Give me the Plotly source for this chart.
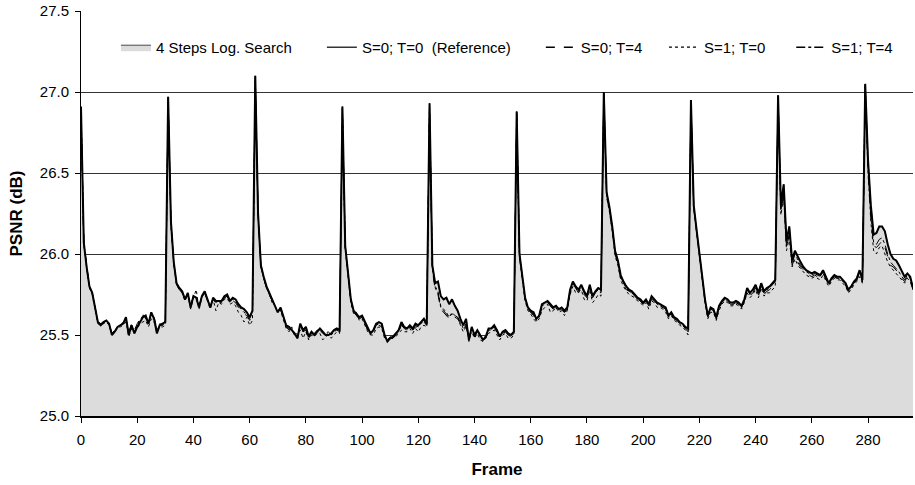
import plotly.graph_objects as go

frames = list(range(297))

# 4 Steps Log. Search (filled area)
log_search = [
    26.91, 26.07, 25.92, 25.80, 25.76, 25.66, 25.58, 25.56, 25.58, 25.59, 25.57, 25.50, 25.52, 25.55, 25.56, 25.57, 25.61, 25.50, 25.56, 25.51, 25.55, 25.58, 25.61, 25.62, 25.57, 25.64, 25.60, 25.51, 25.56, 25.57, 25.58,
    26.97, 26.20, 25.95, 25.82, 25.79, 25.77, 25.72, 25.76, 25.67, 25.74, 25.73, 25.67, 25.74, 25.77, 25.72, 25.67, 25.73, 25.71, 25.71, 25.71, 25.74, 25.75, 25.71, 25.73, 25.72, 25.69, 25.67, 25.66, 25.64, 25.61, 25.65,
    27.10, 26.25, 25.93, 25.86, 25.80, 25.76, 25.72, 25.68, 25.64, 25.67, 25.61, 25.56, 25.55, 25.53, 25.51, 25.48, 25.57, 25.53, 25.55, 25.49, 25.52, 25.50, 25.52, 25.54, 25.52, 25.50, 25.50, 25.51, 25.53, 25.54, 25.53,
    26.91, 26.05, 25.86, 25.72, 25.65, 25.63, 25.61, 25.62, 25.58, 25.54, 25.51, 25.53, 25.57, 25.58, 25.57, 25.50, 25.46, 25.48, 25.49, 25.51, 25.53, 25.58, 25.55, 25.54, 25.56, 25.54, 25.57, 25.56, 25.58, 25.60, 25.57,
    26.93, 25.93, 25.82, 25.83, 25.74, 25.72, 25.73, 25.69, 25.72, 25.68, 25.65, 25.60, 25.56, 25.60, 25.47, 25.55, 25.50, 25.53, 25.50, 25.47, 25.49, 25.54, 25.54, 25.56, 25.53, 25.49, 25.52, 25.53, 25.51, 25.50, 25.52,
    26.88, 26.00, 25.86, 25.73, 25.67, 25.65, 25.64, 25.60, 25.62, 25.69, 25.70, 25.71, 25.69, 25.67, 25.68, 25.66, 25.67, 25.65, 25.67, 25.78, 25.83, 25.80, 25.78, 25.81, 25.77, 25.74, 25.81, 25.74, 25.77, 25.79, 25.78,
    27.00, 26.38, 26.29, 26.17, 26.02, 25.96, 25.87, 25.83, 25.80, 25.78, 25.77, 25.75, 25.73, 25.72, 25.70, 25.72, 25.69, 25.74, 25.72, 25.70, 25.69, 25.68, 25.67, 25.62, 25.64, 25.61, 25.60, 25.58, 25.57, 25.55, 25.54,
    26.95, 26.30, 26.15, 26.00, 25.85, 25.72, 25.62, 25.67, 25.66, 25.61, 25.68, 25.71, 25.73, 25.72, 25.70, 25.70, 25.71, 25.70, 25.68, 25.72, 25.79, 25.76, 25.78, 25.81, 25.76, 25.82, 25.77, 25.79, 25.80, 25.82, 25.84,
    26.98, 26.30, 26.43, 26.08, 26.17, 25.96, 26.02, 25.98, 25.95, 25.92, 25.90, 25.89, 25.88, 25.89, 25.88, 25.87, 25.90, 25.86, 25.82, 25.85, 25.87, 25.86, 25.86, 25.84, 25.82, 25.78, 25.80, 25.83, 25.85, 25.90, 25.84,
    27.05, 26.58, 26.30, 26.12, 26.13, 26.17, 26.17, 26.14, 26.06, 26.00, 25.97, 25.96, 25.93, 25.89, 25.86, 25.88, 25.86, 25.79,
]

# S=0; T=0 (Reference)
s0_t0 = [
    26.91, 26.07, 25.92, 25.80, 25.76, 25.66, 25.58, 25.56, 25.58, 25.59, 25.57, 25.50, 25.52, 25.55, 25.56, 25.57, 25.61, 25.50, 25.56, 25.51, 25.55, 25.58, 25.61, 25.62, 25.57, 25.64, 25.60, 25.51, 25.56, 25.57, 25.58,
    26.97, 26.20, 25.95, 25.82, 25.79, 25.77, 25.72, 25.76, 25.67, 25.74, 25.73, 25.67, 25.74, 25.77, 25.72, 25.67, 25.73, 25.71, 25.71, 25.71, 25.74, 25.75, 25.71, 25.73, 25.72, 25.69, 25.67, 25.66, 25.64, 25.61, 25.65,
    27.10, 26.25, 25.93, 25.86, 25.80, 25.76, 25.72, 25.68, 25.64, 25.67, 25.61, 25.56, 25.55, 25.53, 25.51, 25.48, 25.57, 25.53, 25.55, 25.49, 25.52, 25.50, 25.52, 25.54, 25.52, 25.50, 25.50, 25.51, 25.53, 25.54, 25.53,
    26.91, 26.05, 25.86, 25.72, 25.65, 25.63, 25.61, 25.62, 25.58, 25.54, 25.51, 25.53, 25.57, 25.58, 25.57, 25.50, 25.46, 25.48, 25.49, 25.51, 25.53, 25.58, 25.55, 25.54, 25.56, 25.54, 25.57, 25.56, 25.58, 25.60, 25.57,
    26.93, 25.93, 25.82, 25.83, 25.74, 25.72, 25.73, 25.69, 25.72, 25.68, 25.65, 25.60, 25.56, 25.60, 25.47, 25.55, 25.50, 25.53, 25.50, 25.47, 25.49, 25.54, 25.54, 25.56, 25.53, 25.49, 25.52, 25.53, 25.51, 25.50, 25.52,
    26.88, 26.00, 25.86, 25.73, 25.67, 25.65, 25.64, 25.60, 25.62, 25.69, 25.70, 25.71, 25.69, 25.67, 25.68, 25.66, 25.67, 25.65, 25.67, 25.78, 25.83, 25.80, 25.78, 25.81, 25.77, 25.74, 25.81, 25.74, 25.77, 25.79, 25.78,
    27.00, 26.38, 26.29, 26.17, 26.02, 25.96, 25.87, 25.83, 25.80, 25.78, 25.77, 25.75, 25.73, 25.72, 25.70, 25.72, 25.69, 25.74, 25.72, 25.70, 25.69, 25.68, 25.67, 25.62, 25.64, 25.61, 25.60, 25.58, 25.57, 25.55, 25.54,
    26.95, 26.30, 26.15, 26.00, 25.85, 25.72, 25.62, 25.67, 25.66, 25.61, 25.68, 25.71, 25.73, 25.72, 25.70, 25.70, 25.71, 25.70, 25.68, 25.72, 25.79, 25.76, 25.78, 25.81, 25.76, 25.82, 25.77, 25.79, 25.80, 25.82, 25.84,
    26.98, 26.30, 26.43, 26.08, 26.17, 25.96, 26.02, 25.98, 25.95, 25.92, 25.90, 25.89, 25.88, 25.89, 25.88, 25.87, 25.90, 25.86, 25.82, 25.85, 25.87, 25.86, 25.86, 25.84, 25.82, 25.78, 25.80, 25.83, 25.85, 25.90, 25.84,
    27.05, 26.58, 26.30, 26.12, 26.13, 26.17, 26.17, 26.14, 26.06, 26.00, 25.97, 25.96, 25.93, 25.89, 25.86, 25.88, 25.86, 25.79,
]

# S=0; T=4
s0_t4 = [
    26.90, 26.08, 25.93, 25.80, 25.76, 25.66, 25.58, 25.57, 25.58, 25.59, 25.56, 25.51, 25.53, 25.56, 25.56, 25.58, 25.59, 25.52, 25.57, 25.53, 25.57, 25.60, 25.63, 25.60, 25.58, 25.62, 25.61, 25.54, 25.57, 25.56, 25.59,
    26.96, 26.19, 25.94, 25.81, 25.78, 25.76, 25.72, 25.75, 25.68, 25.74, 25.72, 25.68, 25.73, 25.76, 25.71, 25.68, 25.72, 25.70, 25.71, 25.70, 25.73, 25.74, 25.70, 25.71, 25.70, 25.67, 25.65, 25.63, 25.62, 25.59, 25.63,
    27.08, 26.24, 25.93, 25.85, 25.79, 25.75, 25.71, 25.69, 25.65, 25.66, 25.60, 25.55, 25.53, 25.54, 25.50, 25.49, 25.55, 25.52, 25.53, 25.48, 25.51, 25.51, 25.53, 25.53, 25.51, 25.51, 25.52, 25.50, 25.52, 25.53, 25.52,
    26.90, 26.04, 25.85, 25.71, 25.64, 25.62, 25.60, 25.61, 25.57, 25.53, 25.52, 25.52, 25.55, 25.56, 25.55, 25.49, 25.47, 25.49, 25.48, 25.50, 25.52, 25.56, 25.54, 25.53, 25.55, 25.53, 25.55, 25.55, 25.57, 25.58, 25.56,
    26.92, 25.90, 25.78, 25.75, 25.66, 25.64, 25.62, 25.60, 25.62, 25.61, 25.60, 25.57, 25.53, 25.56, 25.46, 25.53, 25.49, 25.52, 25.48, 25.47, 25.48, 25.52, 25.53, 25.54, 25.52, 25.48, 25.51, 25.52, 25.50, 25.49, 25.51,
    26.87, 25.99, 25.85, 25.72, 25.66, 25.64, 25.62, 25.59, 25.61, 25.67, 25.68, 25.70, 25.68, 25.66, 25.66, 25.65, 25.66, 25.64, 25.66, 25.76, 25.81, 25.79, 25.76, 25.79, 25.75, 25.73, 25.79, 25.73, 25.75, 25.77, 25.76,
    26.99, 26.36, 26.27, 26.15, 26.00, 25.94, 25.85, 25.81, 25.78, 25.77, 25.76, 25.74, 25.72, 25.71, 25.69, 25.71, 25.68, 25.72, 25.71, 25.69, 25.68, 25.67, 25.66, 25.61, 25.63, 25.60, 25.59, 25.57, 25.56, 25.54, 25.52,
    26.94, 26.29, 26.14, 25.99, 25.84, 25.71, 25.61, 25.65, 25.65, 25.60, 25.66, 25.70, 25.72, 25.71, 25.69, 25.69, 25.70, 25.69, 25.67, 25.71, 25.77, 25.74, 25.76, 25.79, 25.74, 25.80, 25.75, 25.77, 25.78, 25.80, 25.82,
    26.97, 26.26, 26.38, 26.04, 26.12, 25.93, 25.98, 25.95, 25.92, 25.90, 25.88, 25.87, 25.86, 25.87, 25.86, 25.85, 25.88, 25.84, 25.81, 25.84, 25.86, 25.85, 25.85, 25.83, 25.81, 25.77, 25.79, 25.82, 25.84, 25.88, 25.83,
    27.04, 26.52, 26.22, 26.05, 26.04, 26.06, 26.08, 26.04, 25.98, 25.93, 25.92, 25.90, 25.88, 25.85, 25.83, 25.86, 25.84, 25.78,
]

# S=1; T=0
s1_t0 = [
    26.90, 26.06, 25.92, 25.79, 25.75, 25.65, 25.57, 25.56, 25.57, 25.58, 25.56, 25.50, 25.52, 25.54, 25.55, 25.56, 25.58, 25.49, 25.54, 25.52, 25.54, 25.57, 25.58, 25.59, 25.55, 25.60, 25.58, 25.52, 25.55, 25.55, 25.56,
    26.96, 26.18, 25.94, 25.81, 25.78, 25.76, 25.71, 25.75, 25.66, 25.73, 25.78, 25.66, 25.73, 25.76, 25.71, 25.66, 25.72, 25.65, 25.70, 25.69, 25.72, 25.73, 25.69, 25.70, 25.68, 25.64, 25.62, 25.58, 25.61, 25.56, 25.59,
    27.08, 26.23, 25.92, 25.85, 25.79, 25.75, 25.70, 25.68, 25.66, 25.65, 25.59, 25.54, 25.52, 25.55, 25.49, 25.52, 25.53, 25.48, 25.52, 25.47, 25.50, 25.49, 25.51, 25.51, 25.47, 25.49, 25.50, 25.48, 25.50, 25.52, 25.51,
    26.89, 26.03, 25.84, 25.70, 25.63, 25.64, 25.59, 25.60, 25.56, 25.52, 25.50, 25.50, 25.54, 25.55, 25.54, 25.48, 25.46, 25.47, 25.49, 25.49, 25.51, 25.53, 25.52, 25.52, 25.54, 25.51, 25.54, 25.52, 25.55, 25.56, 25.55,
    26.92, 25.92, 25.80, 25.77, 25.68, 25.66, 25.64, 25.61, 25.64, 25.62, 25.61, 25.56, 25.52, 25.55, 25.48, 25.52, 25.48, 25.51, 25.47, 25.46, 25.50, 25.51, 25.52, 25.53, 25.50, 25.47, 25.50, 25.51, 25.48, 25.48, 25.50,
    26.86, 25.98, 25.84, 25.71, 25.65, 25.63, 25.60, 25.58, 25.60, 25.65, 25.67, 25.69, 25.64, 25.65, 25.67, 25.64, 25.65, 25.62, 25.65, 25.75, 25.80, 25.76, 25.77, 25.78, 25.72, 25.71, 25.78, 25.70, 25.72, 25.75, 25.74,
    26.98, 26.35, 26.26, 26.14, 25.99, 25.93, 25.84, 25.80, 25.77, 25.75, 25.74, 25.73, 25.71, 25.70, 25.68, 25.70, 25.66, 25.71, 25.70, 25.67, 25.67, 25.66, 25.64, 25.60, 25.62, 25.59, 25.58, 25.56, 25.55, 25.53, 25.50,
    26.93, 26.28, 26.13, 25.98, 25.83, 25.70, 25.60, 25.64, 25.64, 25.59, 25.65, 25.69, 25.71, 25.70, 25.68, 25.68, 25.69, 25.68, 25.66, 25.70, 25.76, 25.73, 25.75, 25.78, 25.73, 25.79, 25.74, 25.76, 25.76, 25.78, 25.80,
    26.96, 26.24, 26.36, 26.02, 26.10, 25.92, 25.97, 25.93, 25.91, 25.89, 25.87, 25.86, 25.85, 25.86, 25.85, 25.84, 25.87, 25.83, 25.80, 25.83, 25.85, 25.84, 25.84, 25.82, 25.80, 25.76, 25.78, 25.81, 25.83, 25.86, 25.82,
    27.03, 26.50, 26.20, 26.02, 26.00, 26.04, 26.05, 26.00, 25.95, 25.92, 25.90, 25.88, 25.86, 25.84, 25.82, 25.85, 25.83, 25.78,
]

# S=1; T=4
s1_t4 = [
    26.90, 26.07, 25.93, 25.80, 25.76, 25.66, 25.58, 25.57, 25.57, 25.59, 25.57, 25.51, 25.53, 25.55, 25.56, 25.57, 25.60, 25.51, 25.56, 25.52, 25.56, 25.59, 25.62, 25.61, 25.57, 25.63, 25.60, 25.53, 25.56, 25.56, 25.58,
    26.96, 26.19, 25.94, 25.81, 25.78, 25.76, 25.72, 25.75, 25.67, 25.74, 25.73, 25.68, 25.74, 25.76, 25.72, 25.67, 25.72, 25.70, 25.70, 25.70, 25.73, 25.74, 25.71, 25.72, 25.71, 25.68, 25.66, 25.64, 25.63, 25.60, 25.64,
    27.09, 26.24, 25.92, 25.85, 25.79, 25.75, 25.71, 25.68, 25.64, 25.66, 25.60, 25.55, 25.54, 25.53, 25.50, 25.48, 25.56, 25.52, 25.54, 25.48, 25.51, 25.50, 25.52, 25.53, 25.51, 25.50, 25.51, 25.50, 25.52, 25.53, 25.52,
    26.90, 26.04, 25.85, 25.71, 25.64, 25.62, 25.60, 25.61, 25.57, 25.53, 25.51, 25.52, 25.56, 25.57, 25.56, 25.49, 25.46, 25.48, 25.48, 25.50, 25.52, 25.57, 25.54, 25.53, 25.55, 25.53, 25.56, 25.55, 25.57, 25.59, 25.56,
    26.92, 25.91, 25.79, 25.76, 25.67, 25.65, 25.63, 25.61, 25.63, 25.62, 25.61, 25.58, 25.54, 25.57, 25.47, 25.54, 25.49, 25.52, 25.49, 25.47, 25.48, 25.53, 25.53, 25.55, 25.52, 25.49, 25.51, 25.52, 25.50, 25.49, 25.51,
    26.87, 25.99, 25.85, 25.72, 25.66, 25.64, 25.63, 25.59, 25.61, 25.68, 25.69, 25.70, 25.68, 25.66, 25.67, 25.65, 25.66, 25.64, 25.66, 25.77, 25.82, 25.79, 25.77, 25.80, 25.76, 25.73, 25.80, 25.73, 25.76, 25.78, 25.77,
    26.99, 26.37, 26.28, 26.16, 26.01, 25.95, 25.86, 25.82, 25.79, 25.77, 25.76, 25.74, 25.72, 25.71, 25.69, 25.71, 25.68, 25.73, 25.71, 25.69, 25.68, 25.67, 25.66, 25.61, 25.63, 25.60, 25.59, 25.57, 25.56, 25.54, 25.53,
    26.94, 26.29, 26.14, 25.99, 25.84, 25.71, 25.62, 25.66, 25.65, 25.60, 25.67, 25.70, 25.72, 25.71, 25.69, 25.69, 25.70, 25.69, 25.67, 25.71, 25.78, 25.75, 25.77, 25.80, 25.75, 25.81, 25.76, 25.78, 25.79, 25.81, 25.83,
    26.97, 26.27, 26.40, 26.05, 26.14, 25.94, 26.00, 25.96, 25.93, 25.91, 25.89, 25.88, 25.87, 25.88, 25.87, 25.86, 25.89, 25.85, 25.81, 25.84, 25.86, 25.85, 25.85, 25.83, 25.81, 25.77, 25.79, 25.82, 25.84, 25.89, 25.83,
    27.04, 26.54, 26.25, 26.07, 26.06, 26.09, 26.10, 26.06, 26.00, 25.95, 25.93, 25.91, 25.89, 25.86, 25.84, 25.87, 25.85, 25.78,
]

y_ticks = [25.0, 25.5, 26.0, 26.5, 27.0, 27.5]
x_ticks = list(range(0, 281, 20))

FONT = "Liberation Sans, Arial, sans-serif"
NB = "\u00a0"

fig = go.Figure()
fig.add_trace(go.Scatter(
    x=frames, y=log_search, mode="lines", fill="tozeroy",
    fillcolor="#dcdcdc", line=dict(color="#222222", width=0.8),
    name="4 Steps Log. Search" + NB * 6))
fig.add_trace(go.Scatter(
    x=frames, y=s1_t0, mode="lines",
    line=dict(color="black", width=1, dash="dot"), showlegend=False,
    name="S=1; T=0"))
fig.add_trace(go.Scatter(
    x=frames, y=s0_t4, mode="lines",
    line=dict(color="black", width=1, dash="dash"), showlegend=False,
    name="S=0; T=4"))
fig.add_trace(go.Scatter(
    x=frames, y=s1_t4, mode="lines",
    line=dict(color="black", width=1, dash="dashdot"), showlegend=False,
    name="S=1; T=4"))
fig.add_trace(go.Scatter(
    x=frames, y=s0_t0, mode="lines",
    line=dict(color="black", width=2), showlegend=False,
    name="S=0; T=0 (Reference)"))

# legend-only entries in the reference order
legend_items = [
    ("S=0; T=0" + NB + " (Reference)" + NB * 6, dict(color="black", width=1.2)),
    ("S=0; T=4" + NB * 4, dict(color="black", width=1.5, dash="dash")),
    ("S=1; T=0" + NB * 5, dict(color="black", width=1.2, dash="dot")),
    ("S=1; T=4", dict(color="black", width=1.5, dash="dashdot")),
]
for nm, ln in legend_items:
    fig.add_trace(go.Scatter(x=[None], y=[None], mode="lines", line=ln, name=nm))

fig.update_layout(
    width=915, height=485,
    margin=dict(l=81, r=2, t=11, b=69),
    paper_bgcolor="white", plot_bgcolor="white",
    font=dict(family=FONT, size=15, color="black"),
    showlegend=True,
    legend=dict(orientation="h", x=0.042, xanchor="left", y=0.91, yanchor="middle",
                bgcolor="rgba(0,0,0,0)", font=dict(size=15), itemwidth=30,
                traceorder="normal"),
    xaxis=dict(range=[0, 296], tickvals=x_ticks, ticks="outside", ticklen=5,
               tickcolor="black", showline=True, linecolor="black", linewidth=1.5,
               showgrid=False, zeroline=False, automargin=False,
               ticklabelstandoff=4,
               title=dict(text="<b>Frame</b>", font=dict(size=17), standoff=16)),
    yaxis=dict(range=[25, 27.5], tickvals=y_ticks, tickformat=".1f", ticks="outside",
               ticklen=5, tickcolor="black", showline=True, linecolor="black",
               linewidth=1, showgrid=True, gridcolor="#333333", gridwidth=1,
               zeroline=False, automargin=False, ticklabelstandoff=3,
               title=dict(text="<b>PSNR (dB)</b>", font=dict(size=17), standoff=12)),
)

fig.write_html("out.html", config={"displayModeBar": False},
               post_script="document.body.style.margin='0';document.body.style.overflow='hidden';")
